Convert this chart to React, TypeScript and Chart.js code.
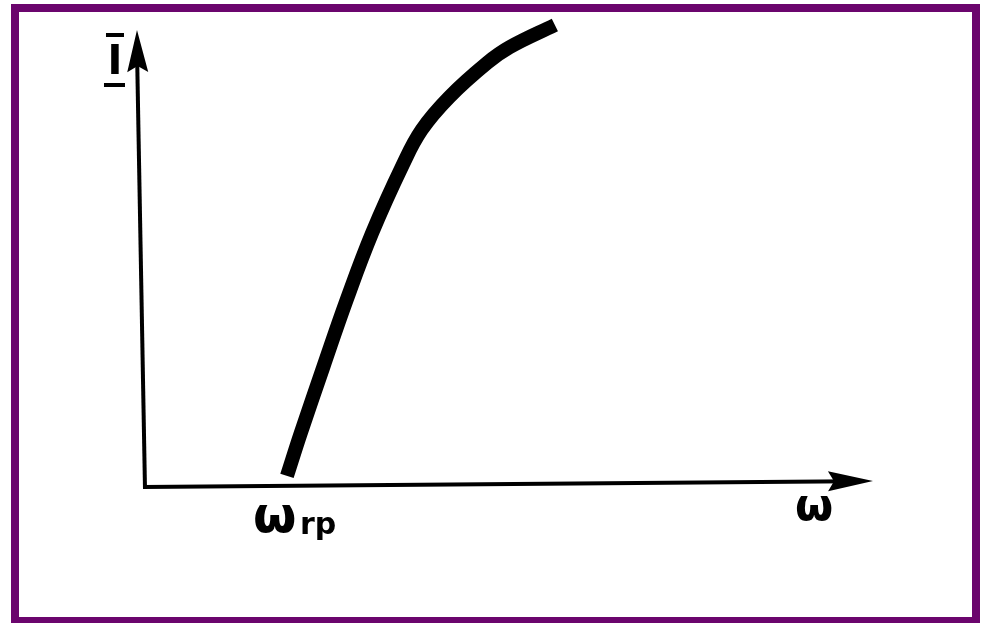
import { useEffect, useRef } from 'react';
import { Chart, registerables } from 'chart.js';

Chart.register(...registerables);

// Characteristic I(ω): current rises from the threshold frequency ω_rp
const omegaValues = [1.95, 2.14, 2.45, 2.77, 3.12, 3.54, 3.8, 4.18, 4.7, 5.01, 5.63];
const currentValues = [0.24, 1.17, 2.6, 4.05, 5.5, 6.97, 7.73, 8.44, 9.18, 9.52, 10.0];

// Threshold frequency marked on the ω axis
const omegaRp = 1.95;

// Axis captions
const xAxisSymbol = 'ω';
const yAxisSymbol = 'I';
const thresholdSymbol = 'ω';
const thresholdSubscript = 'rp';

// Axis ends (slightly hand-drawn slant)
const yAxisTop = { x: -0.11, y: 9.89 };
const xAxisTip = { x: 10, y: 0.13 };

const INK = '#000000';
const FRAME = '#6b056d';

function arrowHead(ctx: CanvasRenderingContext2D, x0: number, y0: number, x1: number, y1: number, len: number, half: number) {
  const dx = x1 - x0;
  const dy = y1 - y0;
  const d = Math.hypot(dx, dy);
  const ux = dx / d;
  const uy = dy / d;
  const bx = x1 - ux * len;
  const by = y1 - uy * len;
  ctx.beginPath();
  ctx.moveTo(x1, y1);
  ctx.lineTo(bx - uy * half, by + ux * half);
  ctx.lineTo(bx + ux * 6, by + uy * 6);
  ctx.lineTo(bx + uy * half, by - ux * half);
  ctx.closePath();
  ctx.fill();
}

const diagramPlugin = {
  id: 'diagramDecor',
  beforeDatasetsDraw(chart: any) {
    const { ctx } = chart;
    const xs = chart.scales.x;
    const ys = chart.scales.y;
    const ox = xs.getPixelForValue(0);
    const oy = ys.getPixelForValue(0);

    ctx.save();
    // frame
    ctx.strokeStyle = FRAME;
    ctx.lineWidth = 8;
    ctx.strokeRect(15, 8, 961, 613);

    ctx.strokeStyle = INK;
    ctx.fillStyle = INK;
    ctx.lineWidth = 4;
    ctx.lineCap = 'butt';

    // ω axis
    const xtX = xs.getPixelForValue(xAxisTip.x);
    const xtY = ys.getPixelForValue(xAxisTip.y);
    ctx.beginPath();
    ctx.moveTo(ox - 2, oy);
    ctx.lineTo(xtX - 20, xtY + (oy - xtY) * 20 / (xtX - ox));
    ctx.stroke();
    arrowHead(ctx, ox, oy, xtX, xtY, 45, 10);

    // I axis
    const ytX = xs.getPixelForValue(yAxisTop.x);
    const ytY = ys.getPixelForValue(yAxisTop.y);
    ctx.beginPath();
    ctx.moveTo(ox, oy + 2);
    ctx.lineTo(ytX, ytY + 20);
    ctx.stroke();
    arrowHead(ctx, ox, oy, ytX, ytY, 42, 10.5);

    // I caption with bars
    const ix = ytX - 22;
    ctx.font = 'bold 40px "DejaVu Sans"';
    ctx.textAlign = 'center';
    ctx.textBaseline = 'alphabetic';
    ctx.fillText(yAxisSymbol, ix, ytY + 44);
    ctx.lineWidth = 4;
    ctx.beginPath();
    ctx.moveTo(ix - 9, ytY + 5);
    ctx.lineTo(ix + 9, ytY + 5);
    ctx.moveTo(ix - 11, ytY + 55);
    ctx.lineTo(ix + 10, ytY + 55);
    ctx.stroke();

    // ω_rp under the threshold point
    const rx = xs.getPixelForValue(omegaRp);
    ctx.textAlign = 'left';
    ctx.font = 'bold 50px "DejaVu Sans"';
    ctx.fillText(thresholdSymbol, rx - 34, oy + 45);
    ctx.font = 'bold 30px "DejaVu Sans"';
    ctx.fillText(thresholdSubscript, rx + 13, oy + 47);

    // ω at the axis end
    ctx.font = 'bold 44px "DejaVu Sans"';
    ctx.fillText(xAxisSymbol, xtX - 78, xtY + 39);
    ctx.restore();
  },
};

export default function App() {
  const canvasRef = useRef<HTMLCanvasElement | null>(null);

  useEffect(() => {
    const canvas = canvasRef.current;
    if (!canvas) return;
    const chart = new Chart(canvas, {
      type: 'line',
      data: {
        datasets: [
          {
            data: omegaValues.map((x, i) => ({ x, y: currentValues[i] })),
            borderColor: INK,
            borderWidth: 14,
            borderCapStyle: 'butt',
            borderJoinStyle: 'round',
            tension: 0.4,
            fill: false,
            pointRadius: 0,
            clip: false,
          } as any,
        ],
      },
      options: {
        animation: false,
        responsive: true,
        maintainAspectRatio: false,
        events: [],
        layout: { padding: { left: 145, right: 113, top: 25, bottom: 136 } },
        plugins: { legend: { display: false }, tooltip: { enabled: false } },
        scales: {
          x: { type: 'linear', min: 0, max: 10, display: false },
          y: { type: 'linear', min: 0, max: 10, display: false },
        },
      },
      plugins: [diagramPlugin],
    });
    return () => chart.destroy();
  }, []);

  return (
    <div style={{ position: 'fixed', left: 0, top: 0, width: 986, height: 623, background: '#ffffff' }}>
      <canvas ref={canvasRef} />
    </div>
  );
}
